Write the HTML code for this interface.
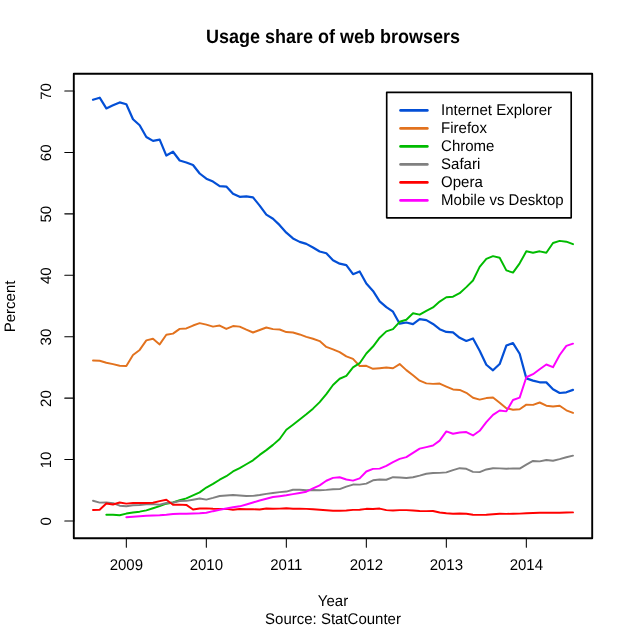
<!DOCTYPE html>
<html lang="en"><head><meta charset="utf-8"><title>Usage share of web browsers</title>
<style>html,body{margin:0;padding:0;background:#fff}body{width:630px;height:630px;overflow:hidden}svg{display:block}</style>
</head><body>
<svg width="630" height="630" viewBox="0 0 630 630">
<rect x="0" y="0" width="630" height="630" fill="#fff"/>
<g fill="none" stroke-width="1.95" stroke-linecap="round" stroke-linejoin="round">
<polyline stroke="#034fd6" stroke-width="2.2" points="93.00,99.78 99.67,97.70 106.33,108.45 113.00,105.25 119.67,102.43 126.33,104.27 133.00,119.20 139.67,125.22 146.33,136.95 153.00,140.88 159.67,139.59 166.33,155.56 173.00,151.75 179.67,160.48 186.33,162.44 193.00,164.96 199.67,173.50 206.33,178.72 213.00,181.61 219.67,186.21 226.33,186.58 233.00,193.83 239.67,196.84 246.33,196.29 253.00,197.39 259.67,205.63 266.33,214.66 273.00,218.71 279.67,225.16 286.33,232.65 293.00,238.43 299.67,241.87 306.33,243.90 313.00,247.52 319.67,251.51 326.33,253.29 333.00,260.24 339.67,263.68 346.33,265.09 353.00,274.18 359.67,271.42 366.33,283.58 373.00,290.95 379.67,301.39 386.33,307.17 393.00,311.71 399.67,323.69 406.33,322.52 413.00,324.18 419.67,319.21 426.33,320.13 433.00,323.94 439.67,329.16 446.33,331.92 453.00,332.35 459.67,337.82 466.33,341.01 473.00,338.50 479.67,350.72 486.33,364.73 493.00,370.32 499.67,364.05 506.33,345.56 513.00,343.10 519.67,353.79 526.33,378.36 533.00,380.64 539.67,382.29 546.33,382.36 553.00,389.24 559.67,392.98 566.33,392.31 573.00,389.85"/>
<polyline stroke="#e2721e" points="93.00,360.43 99.67,360.79 106.33,362.70 113.00,364.11 119.67,365.77 126.33,366.02 133.00,354.96 139.67,349.92 146.33,340.40 153.00,338.74 159.67,344.39 166.33,334.69 173.00,333.64 179.67,328.85 186.33,328.48 193.00,325.53 199.67,323.14 206.33,324.61 213.00,326.64 219.67,325.53 226.33,328.91 233.00,326.03 239.67,326.64 246.33,329.65 253.00,332.48 259.67,330.02 266.33,327.50 273.00,329.10 279.67,329.53 286.33,332.05 293.00,332.54 299.67,334.44 306.33,336.84 313.00,338.74 319.67,341.08 326.33,346.91 333.00,349.31 339.67,352.13 346.33,356.43 353.00,358.89 359.67,366.02 366.33,365.77 373.00,368.78 379.67,368.17 386.33,367.55 393.00,368.23 399.67,364.05 406.33,370.13 413.00,375.23 419.67,380.64 426.33,383.40 433.00,383.89 439.67,383.58 446.33,386.53 453.00,389.42 459.67,389.91 466.33,392.80 473.00,397.77 479.67,399.62 486.33,398.08 493.00,397.59 499.67,402.75 506.33,408.22 513.00,409.75 519.67,409.26 526.33,404.65 533.00,404.90 539.67,402.50 546.33,405.70 553.00,406.56 559.67,405.76 566.33,410.31 573.00,412.89"/>
<polyline stroke="#00bb00" points="106.33,514.67 113.00,514.73 119.67,515.29 126.33,513.57 133.00,512.52 139.67,511.66 146.33,510.37 153.00,508.28 159.67,506.13 166.33,503.68 173.00,502.51 179.67,500.24 186.33,498.33 193.00,495.38 199.67,492.37 206.33,487.52 213.00,483.90 219.67,479.72 226.33,476.22 233.00,471.49 239.67,468.11 246.33,464.24 253.00,460.31 259.67,454.90 266.33,450.11 273.00,444.89 279.67,438.99 286.33,429.78 293.00,424.68 299.67,419.40 306.33,414.30 313.00,408.65 319.67,402.07 326.33,394.15 333.00,385.00 339.67,378.73 346.33,375.97 353.00,367.43 359.67,363.19 366.33,353.48 373.00,346.54 379.67,337.70 386.33,331.37 393.00,329.16 399.67,321.79 406.33,319.76 413.00,313.31 419.67,314.66 426.33,310.85 433.00,307.41 439.67,301.58 446.33,297.28 453.00,296.66 459.67,293.16 466.33,287.14 473.00,280.51 479.67,266.81 486.33,258.82 493.00,256.12 499.67,257.78 506.33,270.37 513.00,272.58 519.67,263.31 526.33,251.33 533.00,252.68 539.67,251.33 546.33,252.80 553.00,243.04 559.67,240.89 566.33,241.68 573.00,244.20"/>
<polyline stroke="#808080" points="93.00,500.73 99.67,502.63 106.33,502.57 113.00,503.12 119.67,505.70 126.33,506.20 133.00,505.21 139.67,505.09 146.33,504.23 153.00,504.11 159.67,504.72 166.33,503.00 173.00,502.45 179.67,501.04 186.33,500.85 193.00,499.68 199.67,498.46 206.33,499.62 213.00,497.90 219.67,495.94 226.33,495.45 233.00,495.02 239.67,495.57 246.33,496.00 253.00,495.88 259.67,495.02 266.33,493.85 273.00,492.99 279.67,492.13 286.33,491.58 293.00,489.73 299.67,489.79 306.33,490.16 313.00,490.04 319.67,490.22 326.33,489.86 333.00,489.24 339.67,489.12 346.33,486.60 353.00,484.57 359.67,484.63 366.33,483.65 373.00,480.33 379.67,479.41 386.33,479.72 393.00,477.20 399.67,477.45 406.33,478.00 413.00,477.26 419.67,475.60 426.33,473.70 433.00,473.02 439.67,472.90 446.33,472.35 453.00,470.08 459.67,468.17 466.33,468.79 473.00,471.86 479.67,472.10 486.33,469.46 493.00,468.23 499.67,468.36 506.33,468.66 513.00,468.54 519.67,468.54 526.33,464.67 533.00,460.92 539.67,461.35 546.33,459.94 553.00,460.74 559.67,459.14 566.33,457.30 573.00,455.64"/>
<polyline stroke="#ff0000" points="93.00,510.07 99.67,509.76 106.33,503.43 113.00,504.48 119.67,502.51 126.33,503.62 133.00,503.06 139.67,502.88 146.33,502.94 153.00,502.82 159.67,501.16 166.33,499.75 173.00,504.78 179.67,504.60 186.33,504.91 193.00,509.45 199.67,508.59 206.33,508.35 213.00,508.71 219.67,508.90 226.33,508.90 233.00,509.82 239.67,508.96 246.33,509.27 253.00,509.27 259.67,509.45 266.33,508.53 273.00,508.71 279.67,508.65 286.33,508.28 293.00,508.71 299.67,508.71 306.33,508.90 313.00,509.27 319.67,509.70 326.33,510.31 333.00,510.80 339.67,510.74 346.33,510.43 353.00,509.88 359.67,509.82 366.33,508.84 373.00,509.02 379.67,508.59 386.33,510.13 393.00,510.43 399.67,510.13 406.33,510.13 413.00,510.43 419.67,510.99 426.33,511.11 433.00,510.99 439.67,512.46 446.33,513.26 453.00,513.69 459.67,513.51 466.33,513.81 473.00,514.80 479.67,514.86 486.33,514.67 493.00,514.18 499.67,513.81 506.33,513.87 513.00,513.81 519.67,513.63 526.33,513.20 533.00,512.95 539.67,512.83 546.33,512.65 553.00,512.65 559.67,512.77 566.33,512.52 573.00,512.40"/>
<polyline stroke="#ff00ff" points="126.33,517.19 133.00,516.82 139.67,516.33 146.33,515.84 153.00,515.47 159.67,515.16 166.33,514.67 173.00,514.00 179.67,513.69 186.33,513.69 193.00,513.51 199.67,513.20 206.33,512.71 213.00,511.17 219.67,509.82 226.33,508.53 233.00,507.30 239.67,506.32 246.33,504.48 253.00,502.51 259.67,500.48 266.33,498.70 273.00,497.04 279.67,496.18 286.33,495.32 293.00,494.16 299.67,492.99 306.33,491.70 313.00,488.44 319.67,485.37 326.33,480.76 333.00,477.88 339.67,477.26 346.33,479.47 353.00,480.64 359.67,478.37 366.33,471.49 373.00,468.85 379.67,468.60 386.33,465.78 393.00,462.15 399.67,458.90 406.33,457.11 413.00,452.88 419.67,448.64 426.33,447.10 433.00,445.44 439.67,440.65 446.33,431.44 453.00,433.77 459.67,432.42 466.33,432.05 473.00,435.43 479.67,430.82 486.33,422.10 493.00,414.85 499.67,410.49 506.33,411.35 513.00,399.99 519.67,397.65 526.33,377.26 533.00,374.19 539.67,369.27 546.33,364.48 553.00,367.18 559.67,355.02 566.33,345.93 573.00,343.66"/>
</g>
<rect x="73.8" y="73.8" width="518.4" height="464.4" fill="none" stroke="#000" stroke-width="1.9" stroke-linejoin="round"/>
<g stroke="#000" stroke-width="1.05" stroke-linecap="round" fill="none">
<path d="M126.33 538.2H526.33"/>
<path d="M126.33 538.2V547.2"/>
<path d="M206.33 538.2V547.2"/>
<path d="M286.33 538.2V547.2"/>
<path d="M366.33 538.2V547.2"/>
<path d="M446.33 538.2V547.2"/>
<path d="M526.33 538.2V547.2"/>
<path d="M73.8 521.00V91.00"/>
<path d="M73.8 521.00H64.8"/>
<path d="M73.8 459.57H64.8"/>
<path d="M73.8 398.14H64.8"/>
<path d="M73.8 336.71H64.8"/>
<path d="M73.8 275.29H64.8"/>
<path d="M73.8 213.86H64.8"/>
<path d="M73.8 152.43H64.8"/>
<path d="M73.8 91.00H64.8"/>
</g>
<g font-family="'Liberation Sans', Arial, Helvetica, sans-serif" font-size="15" fill="#000" style="text-rendering:geometricPrecision" text-anchor="middle">
<text transform="translate(126.33,570) scale(1,1.035)">2009</text>
<text transform="translate(206.33,570) scale(1,1.035)">2010</text>
<text transform="translate(286.33,570) scale(1,1.035)">2011</text>
<text transform="translate(366.33,570) scale(1,1.035)">2012</text>
<text transform="translate(446.33,570) scale(1,1.035)">2013</text>
<text transform="translate(526.33,570) scale(1,1.035)">2014</text>
<text transform="translate(51.2,521.40) rotate(-90)">0</text>
<text transform="translate(51.2,459.97) rotate(-90)">10</text>
<text transform="translate(51.2,398.54) rotate(-90)">20</text>
<text transform="translate(51.2,337.11) rotate(-90)">30</text>
<text transform="translate(51.2,275.69) rotate(-90)">40</text>
<text transform="translate(51.2,214.26) rotate(-90)">50</text>
<text transform="translate(51.2,152.83) rotate(-90)">60</text>
<text transform="translate(51.2,91.40) rotate(-90)">70</text>
<text transform="translate(14.6,306.4) rotate(-90) scale(1,1.01)">Percent</text>
<text transform="translate(333,606.1) scale(1,1.035)">Year</text>
<text transform="translate(333,624.1) scale(1,1.035)">Source: StatCounter</text>
<text transform="translate(333,42.6) scale(1,1.075)" font-size="18" font-weight="bold">Usage share of web browsers</text>
</g>
<rect x="386.7" y="92.3" width="184.5" height="125.5" fill="#fff" stroke="#000" stroke-width="1.65" stroke-linejoin="round"/>
<g stroke-width="2.80" stroke-linecap="round" fill="none">
<path stroke="#034fd6" d="M400.6 110.4H427.3"/>
<path stroke="#e2721e" d="M400.6 128.4H427.3"/>
<path stroke="#00bb00" d="M400.6 146.4H427.3"/>
<path stroke="#808080" d="M400.6 164.4H427.3"/>
<path stroke="#ff0000" d="M400.6 182.4H427.3"/>
<path stroke="#ff00ff" d="M400.6 200.4H427.3"/>
</g>
<g font-family="'Liberation Sans', Arial, Helvetica, sans-serif" font-size="15" fill="#000" style="text-rendering:geometricPrecision">
<text transform="translate(441.1,115.3) scale(1,1.035)">Internet Explorer</text>
<text transform="translate(441.1,133.3) scale(1,1.035)">Firefox</text>
<text transform="translate(441.1,151.3) scale(1,1.035)">Chrome</text>
<text transform="translate(441.1,169.3) scale(1,1.035)">Safari</text>
<text transform="translate(441.1,187.3) scale(1,1.035)">Opera</text>
<text transform="translate(441.1,205.3) scale(1,1.035)">Mobile vs Desktop</text>
</g>
</svg>
</body></html>
